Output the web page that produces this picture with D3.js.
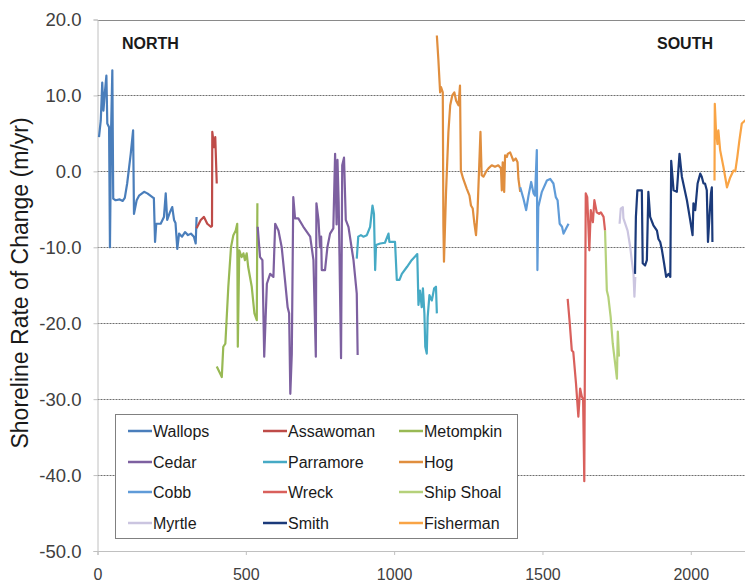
<!DOCTYPE html>
<html><head><meta charset="utf-8">
<script src="https://cdn.jsdelivr.net/npm/d3@7"></script>
<style>html,body{margin:0;padding:0;background:#fff;overflow:hidden}svg{display:block}</style>
</head><body>
<svg id="chart" width="745" height="582"></svg>
<script>
const seriesNames = ["Wallops","Assawoman","Metompkin","Cedar","Parramore","Hog","Cobb","Wreck","Ship Shoal","Myrtle","Smith","Fisherman"];
const seriesColors = ["#4a7ebb","#be4b48","#98b954","#7d60a0","#46aac5","#e08e3e","#5f9bd8","#d9605c","#b5d17a","#cbc5e0","#1b3a7a","#f9a445"];

const wallops = [[5,4.5],[11,6.7],[16,11.7],[20,8],[24,10],[30,12.6],[33,6.3],[39,5.8],[42,-10],[46,5.8],[50,13.3],[53,-3.6],[61,-3.8],[75,-3.7],[85,-3.9],[92,-3.5],[100,-1.6],[112,2.3],[120,5.4],[123,-5.6],[132,-3.8],[140,-3.2],[157,-2.7],[168,-2.9],[185,-3.4],[190,-3.5],[194,-9.3],[198,-6.9],[213,-6.9],[224,-6],[230,-2.9],[235,-6.4],[244,-5.4],[252,-4.7],[258,-6.4],[263,-6.8],[269,-10.2],[275,-8.2],[285,-8.6],[295,-8],[305,-8.4],[315,-8.2],[325,-8.6],[331,-9.5],[334,-6]];
const assawoman = [[334,-7.5],[348,-6.4],[359,-6],[370,-6.9],[382,-7.3],[386,-7.2],[387,5.2],[393,3.2],[397,4.5],[402,-1.6]];
const metompkin = [[402,-25.7],[413,-26.6],[419,-27.1],[424,-23.1],[431,-22.7],[441,-15.2],[450,-10],[458,-8.4],[466,-7.8],[471,-6.9],[473,-23.1],[478,-10.4],[486,-11.3],[492,-10.8],[497,-11.7],[503,-10.8],[508,-12.6],[520,-15.2],[529,-18.7],[537,-19.6],[539,-4.2]];
const cedar = [[540,-7.3],[548,-11.3],[556,-11.7],[562,-24.4],[571,-14.8],[582,-13.5],[593,-13.9],[599,-6.9],[610,-7.8],[621,-10],[632,-14.3],[641,-17.9],[646,-18.7],[650,-29.3],[655,-24],[660,-3.4],[666,-6.2],[677,-6.2],[694,-7.3],[717,-8.6],[728,-11.7],[736,-24.4],[738,-4.2],[745,-6.4],[750,-10],[754,-8.6],[756,-13],[767,-13],[775,-10],[784,-8.2],[795,-7.5],[801,2.3],[806,-7],[809,1.5],[813,-4],[821,-24.6],[825,0.8],[831,1.8],[837,-6.4],[846,-7.3],[863,-11.7],[874,-16.1],[877,-24.2]];
const parramore = [[874,-11.5],[879,-8.6],[888,-8.4],[896,-8.6],[908,-8.4],[919,-7.3],[927,-4.5],[932,-5.6],[936,-13],[939,-9.7],[953,-9.5],[969,-9.4],[981,-8.2],[984,-9.3],[1003,-9.3],[1009,-14.3],[1018,-14.3],[1026,-13.5],[1043,-12.6],[1059,-11.7],[1078,-10.9],[1082,-17.6],[1087,-15.7],[1093,-17.9],[1097,-15.4],[1102,-18.7],[1105,-23.1],[1110,-24],[1113,-19.2],[1119,-16.3],[1127,-17],[1135,-15.4],[1141,-15.2],[1144,-18.7]];
const hog = [[1144,17.9],[1149,14.8],[1155,10.4],[1158,11.1],[1164,10.4],[1166,-7.1],[1168,-11.9],[1175,-2.7],[1183,5.2],[1189,8.7],[1196,10],[1203,10.4],[1209,9.3],[1217,8.7],[1222,11.3],[1225,0.1],[1233,-1],[1245,-2.3],[1254,-3.2],[1259,-4.5],[1265,-4.9],[1270,-6.7],[1276,-8.4],[1281,-5.4],[1286,-0.1],[1291,5.2],[1295,-0.5],[1301,-0.7],[1312,0.1],[1318,0.4],[1329,0.8],[1340,0.6],[1351,0.8],[1360,0.4],[1363,-2.5],[1366,1.2],[1371,-2.7],[1374,2.1],[1380,1.9],[1383,2.3],[1391,2.5],[1397,1.9],[1402,1.4],[1410,1.7],[1416,1.2],[1419,-1],[1425,-2.7]];
const cobb = [[1425,-2.1],[1436,-3.6],[1445,-5.1],[1453,-3.2],[1462,-1.4],[1470,-2.9],[1475,-3.2],[1481,2.8],[1483,-13],[1486,-4.7],[1498,-2.7],[1515,-1.2],[1526,-1],[1537,-1.6],[1545,-3.4],[1551,-3.8],[1558,-6.9],[1566,-7.3],[1571,-8.2],[1580,-7.5],[1588,-6.9]];
const wreck = [[1585,-16.8],[1592,-20],[1599,-23.6],[1604,-23.8],[1613,-27.9],[1621,-32.3],[1627,-28.6],[1633,-29.7],[1637,-30],[1641,-40.8],[1646,-2.9],[1651,-3.4],[1658,-10.4],[1663,-5.1],[1670,-6.7],[1675,-3.8],[1683,-5.4],[1691,-5.6],[1697,-5.4],[1706,-6],[1711,-7.8]];
const shipShoal = [[1711,-7.8],[1717,-15.7],[1722,-16.5],[1730,-19.2],[1737,-22.7],[1745,-25.3],[1751,-27.3],[1754,-21.1],[1758,-24.4]];
const myrtle = [[1760,-6.9],[1764,-4.9],[1771,-4.7],[1773,-6.2],[1787,-7.8],[1796,-10],[1801,-11.7],[1807,-13.5],[1810,-16.5],[1813,-13.9]];
const smith = [[1812,-13.5],[1815,-6],[1820,-2.5],[1829,-2.5],[1835,-2.5],[1838,-12.1],[1846,-12.4],[1852,-11.7],[1857,-2.7],[1863,-6],[1874,-7.1],[1886,-7.8],[1891,-8.9],[1897,-9.3],[1903,-10.4],[1910,-12.1],[1917,-13.9],[1925,-13.5],[1931,-13.9],[1934,1.4],[1942,-2.5],[1953,-2.7],[1962,2.3],[1970,-0.7],[1987,-3.8],[1998,-6.4],[2006,-8.4],[2009,-4.2],[2015,-5.1],[2023,-1.6],[2032,-0.3],[2037,-0.7],[2043,-1.6],[2048,-1.6],[2054,-2.5],[2058,-9.3],[2063,-6],[2068,-2.9],[2071,-2.1],[2073,-9.3]];
const fisherman = [[2080,-1.2],[2081,8.9],[2085,5.4],[2090,3.6],[2093,5.4],[2099,2.8],[2110,0.6],[2122,-2.1],[2133,-0.8],[2144,0.1],[2150,0],[2157,1.9],[2164,4.1],[2172,6.3],[2183,6.7],[2195,6.5]];

const seriesData = [wallops,assawoman,metompkin,cedar,parramore,hog,cobb,wreck,shipShoal,myrtle,smith,fisherman];
const yTicks = [20,10,0,-10,-20,-30,-40,-50];
const xTicks = [0,500,1000,1500,2000];
const yTitle = "Shoreline Rate of Change (m/yr)";
const regionLabels = ["NORTH","SOUTH"];

const svg = d3.select("#chart");
const x = d3.scaleLinear().domain([0,2200]).range([97.5,750.1]);
const y = d3.scaleLinear().domain([-50,20]).range([551,19.5]);
const font = "Arial, 'Liberation Sans', sans-serif";

// gridlines
svg.append("g").selectAll("line").data(yTicks.filter(d=>d>-50 && d<20)).join("line")
  .attr("x1",x(0)).attr("x2",x(2200)).attr("y1",d=>Math.round(y(d))+0.5).attr("y2",d=>Math.round(y(d))+0.5)
  .attr("stroke","#6e6e6e").attr("stroke-width",1).attr("stroke-dasharray","2,1");
// top border
svg.append("line").attr("x1",x(0)).attr("x2",x(2200)).attr("y1",Math.round(y(20))+0.5).attr("y2",Math.round(y(20))+0.5)
  .attr("stroke","#8a8a8a").attr("stroke-width",1);

// axes
const yAxis = d3.axisLeft(y).tickValues(yTicks).tickFormat(d=>d.toFixed(1)).tickSize(4).tickPadding(12);
const gy = svg.append("g").attr("transform",`translate(${x(0)},0)`).call(yAxis);
const xAxis = d3.axisBottom(x).tickValues(xTicks).tickFormat(d=>String(d)).tickSize(4).tickPadding(14);
const gx = svg.append("g").attr("transform",`translate(0,${y(-50)})`).call(xAxis);
[gx,gy].forEach(g=>{
  g.select(".domain").attr("stroke","#c0c0c0");
  g.selectAll(".tick line").attr("stroke","#c0c0c0");
  g.selectAll(".tick text").attr("fill","#404040").style("font-family",font).style("font-size","16px");
});
gy.selectAll(".tick text").attr("dy","0.35em").style("font-size","18.5px");

// series lines
const line = d3.line().x(d=>x(d[0])).y(d=>y(d[1]));
svg.append("g").selectAll("path").data(seriesData).join("path")
  .attr("d",line).attr("fill","none")
  .attr("stroke",(d,i)=>seriesColors[i]).attr("stroke-width",2.2).attr("stroke-linejoin","round");

// region labels
svg.append("text").attr("x",122).attr("y",49).text(regionLabels[0])
  .style("font-family",font).style("font-weight","bold").style("font-size","16px").attr("fill","#1a1a1a");
svg.append("text").attr("x",657).attr("y",49).text(regionLabels[1])
  .style("font-family",font).style("font-weight","bold").style("font-size","16px").attr("fill","#1a1a1a");

// y title
svg.append("text").attr("transform","translate(28,283) rotate(-90)").attr("text-anchor","middle")
  .text(yTitle).style("font-family",font).style("font-size","23px").attr("fill","#1a1a1a");

// legend
const lg = svg.append("g");
lg.append("rect").attr("x",115.5).attr("y",414.5).attr("width",402).attr("height",124)
  .attr("fill","#fff").attr("stroke","#808080").attr("stroke-width",1);
const colX = [128,263,399];
const rowY = [431,462,492,523];
seriesNames.forEach((n,i)=>{
  const cx = colX[i%3], cy = rowY[Math.floor(i/3)];
  lg.append("line").attr("x1",cx).attr("x2",cx+24).attr("y1",cy).attr("y2",cy)
    .attr("stroke",seriesColors[i]).attr("stroke-width",2.5);
  lg.append("text").attr("x",cx+25).attr("y",cy).attr("dy","0.35em").text(n)
    .style("font-family",font).style("font-size","16px").attr("fill","#1a1a1a");
});
</script>
</body></html>
